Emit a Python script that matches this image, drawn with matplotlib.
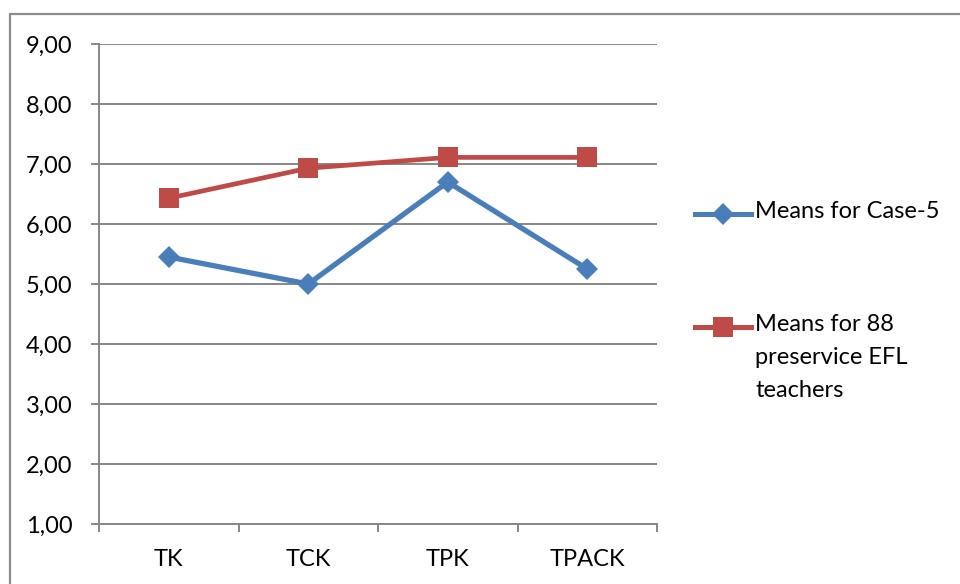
import matplotlib
matplotlib.use('Agg')

import matplotlib.pyplot as plt
from matplotlib.lines import Line2D
from matplotlib.patches import Rectangle
from matplotlib.ticker import FuncFormatter

# Daten
categories = ['TK', 'TCK', 'TPK', 'TPACK']
case5_means = [5.45, 5.00, 6.70, 5.25]
group_means = [6.43, 6.93, 7.11, 7.11]
series_labels = ['Means for Case-5', 'Means for 88\npreservice EFL\nteachers']

BLUE = '#4A7EBB'
RED = '#BE4B48'
GRID = '#878787'

plt.rcParams['font.family'] = ['Lato', 'DejaVu Sans']

W, H = 960, 584
fig = plt.figure(figsize=(W / 100, H / 100), dpi=100)

# aeusserer Rahmen (wie im Excel-Export)
fig.add_artist(Rectangle((10 / W, -0.1), 1.2, 1.1 - 14 / H, transform=fig.transFigure,
                         fill=False, edgecolor='#8c8c8c', linewidth=1.6))

ax = fig.add_axes([99 / W, 1 - 524 / H, (657 - 99) / W, (524 - 44) / H])

x = list(range(len(categories)))
ax.plot(x, case5_means, color=BLUE, linewidth=3.8, marker='D', markersize=11.5,
        markeredgewidth=0, solid_joinstyle='round', zorder=3)
ax.plot(x, group_means, color=RED, linewidth=3.4, marker='s', markersize=14,
        markeredgewidth=0, zorder=3)

ax.set_xlim(-0.5, len(categories) - 0.5)
ax.set_ylim(1, 9)
ax.set_yticks(range(1, 10))
ax.yaxis.set_major_formatter(FuncFormatter(lambda v, p: f'{v:.2f}'.replace('.', ',')))

# Kategorien als Minor-Labels, Major-Ticks an den Grenzen
ax.set_xticks([i - 0.5 for i in range(len(categories) + 1)])
ax.set_xticklabels([])
ax.set_xticks(x, minor=True)
ax.set_xticklabels(categories, minor=True)
ax.tick_params(axis='x', which='major', length=6, width=1.4, color=GRID, direction='out')
ax.tick_params(axis='x', which='minor', length=0, pad=18, labelsize=17)
ax.tick_params(axis='y', length=6, width=1.4, color=GRID, direction='out', pad=13, labelsize=17)

ax.grid(axis='y', color=GRID, linewidth=1.4)
ax.set_axisbelow(True)
for side in ['top', 'right']:
    ax.spines[side].set_visible(False)
for side in ['left', 'bottom']:
    ax.spines[side].set_color(GRID)
    ax.spines[side].set_linewidth(1.4)

# Legende manuell rechts
legend_rows = [(BLUE, 'D', 11.5, 214), (RED, 's', 14, 327)]
for (color, marker, ms, ypix), label in zip(legend_rows, series_labels):
    yf = 1 - ypix / H
    fig.add_artist(Line2D([695 / W, 751 / W], [yf, yf], transform=fig.transFigure,
                          color=color, linewidth=3.6))
    fig.add_artist(Line2D([723 / W], [yf], transform=fig.transFigure, color=color,
                          marker=marker, markersize=ms, markeredgewidth=0))
    fig.text(755 / W, yf + 13 / H, label, fontsize=17, ha='left', va='top',
             linespacing=1.7)

fig.savefig('out.png', dpi=100)
